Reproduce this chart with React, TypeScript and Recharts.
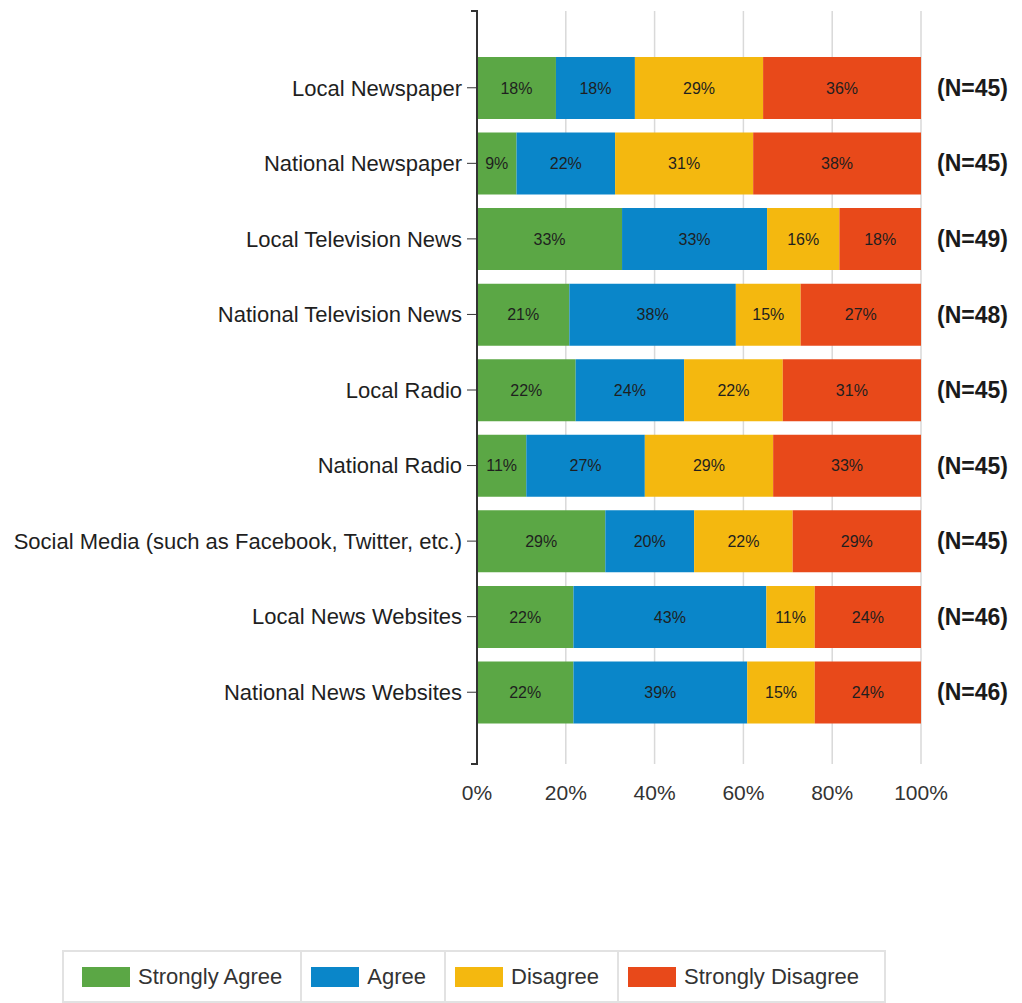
import React from "react"
import { Bar, BarChart, CartesianGrid, LabelList, Legend, XAxis, YAxis } from "recharts"

const categories = [
  "Local Newspaper",
  "National Newspaper",
  "Local Television News",
  "National Television News",
  "Local Radio",
  "National Radio",
  "Social Media (such as Facebook, Twitter, etc.)",
  "Local News Websites",
  "National News Websites",
]

const stronglyAgree = [17.8, 8.9, 32.7, 20.8, 22.2, 11.1, 28.9, 21.7, 21.7]
const agree = [17.8, 22.2, 32.7, 37.5, 24.4, 26.7, 20.0, 43.4, 39.1]
const disagree = [28.9, 31.1, 16.3, 14.6, 22.2, 28.9, 22.2, 10.9, 15.2]
const stronglyDisagree = [35.6, 37.8, 18.4, 27.1, 31.1, 33.3, 28.9, 23.9, 23.9]
const respondents = [45, 45, 49, 48, 45, 45, 45, 46, 46]

const xTicks = [0, 0.2, 0.4, 0.6, 0.8, 1]

const series = [
  { key: "sa", name: "Strongly Agree", color: "#5ba745" },
  { key: "a", name: "Agree", color: "#0a86c9" },
  { key: "d", name: "Disagree", color: "#f4b80f" },
  { key: "sd", name: "Strongly Disagree", color: "#e8491a" },
]

const data = categories.map((name, i) => ({
  name,
  sa: stronglyAgree[i],
  a: agree[i],
  d: disagree[i],
  sd: stronglyDisagree[i],
}))

const FONT = "'Liberation Sans', Arial, sans-serif"
const WIDTH = 1014
const HEIGHT = 995
const MARGIN = { top: 3, right: 0, bottom: 0, left: 0 }
const LEFT_AXIS_W = 469
const RIGHT_AXIS_W = 101
const X_AXIS_H = 186
const LEGEND_H = 53
const PLOT_TOP = MARGIN.top
const PLOT_BOTTOM = HEIGHT - MARGIN.bottom - X_AXIS_H - LEGEND_H
const PLOT_LEFT = MARGIN.left + LEFT_AXIS_W

function ChartLegend() {
  return (
    <div
      style={{
        display: "flex",
        height: LEGEND_H,
        width: 824,
        boxSizing: "border-box",
        border: "2px solid #e2e2e2",
        paddingLeft: 9,
        fontFamily: FONT,
        fontSize: 22,
        color: "#333",
        whiteSpace: "nowrap",
      }}
    >
      {series.map((s, i) => (
        <div
          key={s.key}
          style={{
            display: "flex",
            alignItems: "center",
            flexShrink: 0,
            padding: "0 18px 0 9px",
            borderLeft: i === 0 ? "none" : "2px solid #e2e2e2",
          }}
        >
          <span style={{ width: 48, height: 20, flexShrink: 0, background: s.color, marginRight: 8 }} />
          <span>{s.name}</span>
        </div>
      ))}
    </div>
  )
}

export default function App() {
  return (
    <div style={{ position: "relative", width: WIDTH, height: HEIGHT }}>
      <BarChart
        width={WIDTH}
        height={HEIGHT}
        data={data}
        layout="vertical"
        stackOffset="expand"
        margin={MARGIN}
        barSize={62}
      >
        <CartesianGrid horizontal={false} stroke="#d9d9d9" strokeWidth={1.5} />
        <XAxis
          type="number"
          domain={[0, 1]}
          ticks={xTicks}
          tickFormatter={(v: number) => `${Math.round(v * 100)}%`}
          axisLine={false}
          tickLine={false}
          tickSize={6}
          tickMargin={15}
          height={X_AXIS_H}
          tick={{ fill: "#333", fontSize: 21, fontFamily: FONT }}
        />
        <YAxis
          type="category"
          dataKey="name"
          width={LEFT_AXIS_W}
          padding={{ top: 39, bottom: 34 }}
          axisLine={{ stroke: "#333", strokeWidth: 2 }}
          tickLine={{ stroke: "#333" }}
          tickSize={10}
          tickMargin={5}
          interval={0}
          tick={{ fill: "#1f1f1f", fontSize: 22, fontFamily: FONT }}
        />
        <YAxis
          yAxisId="n"
          orientation="right"
          type="category"
          dataKey="name"
          width={RIGHT_AXIS_W}
          padding={{ top: 39, bottom: 34 }}
          axisLine={false}
          tickLine={false}
          tickSize={0}
          tickMargin={16}
          interval={0}
          tickFormatter={(_v: string, i: number) => `(N=${respondents[i]})`}
          tick={{ fill: "#1a1a1a", fontSize: 23, fontWeight: "bold", fontFamily: FONT, textAnchor: "start" }}
        />
        <Legend
          verticalAlign="bottom"
          content={() => <ChartLegend />}
          wrapperStyle={{ left: 54, width: 824, height: LEGEND_H, bottom: 0 }}
        />
        {series.map((s) => (
          <Bar key={s.key} dataKey={s.key} name={s.name} stackId="all" fill={s.color} isAnimationActive={false}>
            <LabelList
              dataKey={s.key}
              position="center"
              formatter={(v: number) => `${Math.round(v)}%`}
              fill="#1f1f1f"
              fontSize={16}
              fontFamily={FONT}
            />
          </Bar>
        ))}
      </BarChart>
      <svg
        width={WIDTH}
        height={HEIGHT}
        style={{ position: "absolute", left: 0, top: 0, pointerEvents: "none" }}
      >
        <line x1={PLOT_LEFT - 6} x2={PLOT_LEFT + 1} y1={PLOT_TOP} y2={PLOT_TOP} stroke="#333" strokeWidth={2} />
        <line x1={PLOT_LEFT - 6} x2={PLOT_LEFT + 1} y1={PLOT_BOTTOM} y2={PLOT_BOTTOM} stroke="#333" strokeWidth={2} />
      </svg>
    </div>
  )
}
